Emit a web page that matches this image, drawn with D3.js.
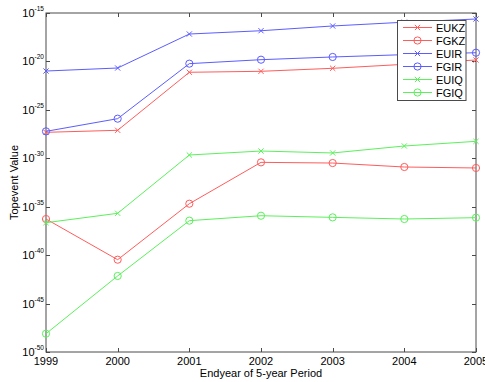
<!DOCTYPE html>
<html>
<head>
<meta charset="utf-8">
<script src="https://cdn.jsdelivr.net/npm/d3@7"></script>
<style>
  html, body { margin: 0; padding: 0; background: #fff; }
  svg { display: block; font-family: "Liberation Sans", Arial, sans-serif; }
</style>
</head>
<body>
<svg id="chart" width="485" height="382"></svg>
<script>
// Period end years on the x axis
const years = [1999, 2000, 2001, 2002, 2003, 2004, 2005];

// Base-10 exponents of the top-event value for each series
const EUKZ = [-27.32, -27.11, -21.12, -21.02, -20.71, -20.30, -19.85];
const FGKZ = [-36.27, -40.47, -34.69, -30.42, -30.49, -30.90, -31.00];
const EUIR = [-20.99, -20.68, -17.17, -16.83, -16.34, -15.95, -15.62];
const FGIR = [-27.22, -25.91, -20.23, -19.82, -19.54, -19.30, -19.10];
const EUIQ = [-36.65, -35.68, -29.66, -29.25, -29.45, -28.73, -28.25];
const FGIQ = [-48.11, -42.15, -36.44, -35.93, -36.10, -36.27, -36.13];

const seriesNames = ["EUKZ", "FGKZ", "EUIR", "FGIR", "EUIQ", "FGIQ"];
const seriesValues = [EUKZ, FGKZ, EUIR, FGIR, EUIQ, FGIQ];
const seriesColors = ["#ff5c5c", "#ff5c5c", "#5c5cff", "#5c5cff", "#5cf05c", "#5cf05c"];
const seriesMarkers = ["x", "o", "x", "o", "x", "o"];

// Y tick exponents
const yTickExps = [-15, -20, -25, -30, -35, -40, -45, -50];

const xLabel = "Endyear of 5-year Period";
const yLabel = "Topevent Value";

const svg = d3.select("#chart");
const m = { left: 46, right: 476, top: 13, bottom: 352 };

const x = d3.scaleLinear().domain([1999, 2005]).range([m.left, m.right]);
const y = d3.scaleLog().domain([1e-50, 1e-15]).range([m.bottom, m.top]);
const yv = e => y(Math.pow(10, e));

const axisColor = "#4a4a4a";
const tickLen = 4;

// Frame
svg.append("rect")
  .attr("x", m.left).attr("y", m.top)
  .attr("width", m.right - m.left).attr("height", m.bottom - m.top)
  .attr("fill", "none").attr("stroke", axisColor).attr("stroke-width", 1);

// Inward ticks on all four sides
const g = svg.append("g").attr("stroke", axisColor).attr("stroke-width", 1);
years.forEach(yr => {
  const px = Math.round(x(yr)) + 0.5;
  g.append("line").attr("x1", px).attr("x2", px).attr("y1", m.bottom).attr("y2", m.bottom - tickLen);
  g.append("line").attr("x1", px).attr("x2", px).attr("y1", m.top).attr("y2", m.top + tickLen);
});
yTickExps.forEach(e => {
  const py = Math.round(yv(e)) + 0.5;
  g.append("line").attr("x1", m.left).attr("x2", m.left + tickLen).attr("y1", py).attr("y2", py);
  g.append("line").attr("x1", m.right).attr("x2", m.right - tickLen).attr("y1", py).attr("y2", py);
});

// X tick labels
svg.append("g").selectAll("text").data(years).join("text")
  .attr("x", d => x(d)).attr("y", m.bottom + 13)
  .attr("text-anchor", "middle").attr("font-size", 11).attr("fill", "#000")
  .text(d => d);

// Y tick labels: 10 with superscript exponent
const yl = svg.append("g").selectAll("text").data(yTickExps).join("text")
  .attr("x", m.left - 2).attr("y", d => yv(d) + 4)
  .attr("text-anchor", "end").attr("font-size", 11).attr("fill", "#000");
yl.append("tspan").text("10");
yl.append("tspan").attr("dy", -6).attr("font-size", 6.5).text(d => d);

// Axis titles
svg.append("text")
  .attr("x", (m.left + m.right) / 2).attr("y", 377)
  .attr("text-anchor", "middle").attr("font-size", 11).text(xLabel);
svg.append("text")
  .attr("transform", `translate(18,${(m.top + m.bottom) / 2}) rotate(-90)`)
  .attr("text-anchor", "middle").attr("font-size", 11).text(yLabel);

// Marker drawing
function drawMarker(sel, type, color, cx, cy) {
  if (type === "x") {
    const s = 2.6;
    sel.append("path")
      .attr("d", `M${cx - s},${cy - s}L${cx + s},${cy + s}M${cx - s},${cy + s}L${cx + s},${cy - s}`)
      .attr("stroke", color).attr("stroke-width", 1).attr("fill", "none");
  } else {
    sel.append("circle").attr("cx", cx).attr("cy", cy).attr("r", 3.6)
      .attr("stroke", color).attr("stroke-width", 1).attr("fill", "none");
  }
}

// Series lines and markers
const line = d3.line().x((d, i) => x(years[i])).y(d => yv(d));
seriesValues.forEach((vals, si) => {
  const sg = svg.append("g");
  sg.append("path").datum(vals).attr("d", line)
    .attr("fill", "none").attr("stroke", seriesColors[si]).attr("stroke-width", 1);
  vals.forEach((v, i) => drawMarker(sg, seriesMarkers[si], seriesColors[si], x(years[i]), yv(v)));
});

// Legend
const lg = svg.append("g");
lg.append("rect").attr("x", 397.5).attr("y", 20.5).attr("width", 68.5).attr("height", 80)
  .attr("fill", "#fff").attr("stroke", axisColor).attr("stroke-width", 1);
seriesNames.forEach((name, i) => {
  const ly = 27.5 + i * 13;
  lg.append("line").attr("x1", 403).attr("x2", 432).attr("y1", ly).attr("y2", ly)
    .attr("stroke", seriesColors[i]).attr("stroke-width", 1);
  drawMarker(lg, seriesMarkers[i], seriesColors[i], 417.5, ly);
  lg.append("text").attr("x", 436).attr("y", ly + 4).attr("font-size", 11).text(name);
});
</script>
</body>
</html>
